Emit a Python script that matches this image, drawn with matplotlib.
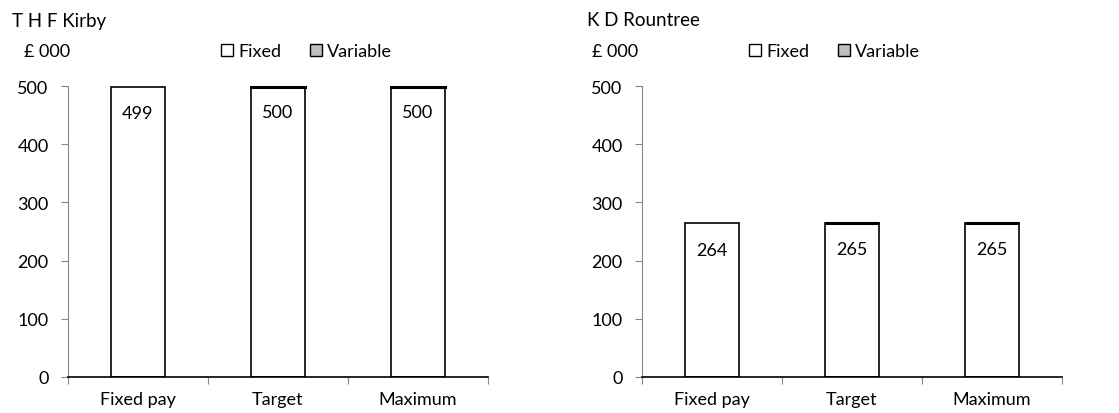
import numpy as np
import matplotlib.pyplot as plt
from matplotlib.patches import Patch

# Datos
categorias = ['Fixed pay', 'Target', 'Maximum']
nombres = ['T H F Kirby', 'K D Rountree']
fijo_kirby = [499, 499, 499]
variable_kirby = [0, 1, 1]
total_kirby = [499, 500, 500]
fijo_rountree = [264, 264, 264]
variable_rountree = [0, 1, 1]
total_rountree = [264, 265, 265]
yticks = [0, 100, 200, 300, 400, 500]

plt.rcParams['font.family'] = ['Lato', 'DejaVu Sans']
plt.rcParams['font.size'] = 13

fig = plt.figure(figsize=(11.19, 4.14), dpi=100)

def panel(rect, nombre, fijo, variable, total, x_titulo, x_unidad, x_leyenda):
    ax = fig.add_axes(rect)
    x = np.arange(len(categorias))
    ax.bar(x, fijo, width=0.39, color='white', edgecolor='black', linewidth=1.2)
    # la parte variable es muy pequeña: se ve como un borde grueso arriba
    ax.bar(x, variable, bottom=fijo, width=0.39, color='#bfbfbf',
           edgecolor='black', linewidth=[0 if v == 0 else 2.2 for v in variable])
    for xi, t in zip(x, total):
        ax.annotate(str(t), (xi, t), xytext=(0, -19), textcoords='offset points',
                    ha='center', va='center', fontsize=13)
    ax.set_xlim(-0.5, 2.5)
    ax.set_ylim(0, 500)
    ax.set_yticks(yticks)
    ax.set_xticks([-0.5, 0.5, 1.5, 2.5], minor=False)
    ax.set_xticklabels([])
    ax.set_xticks(x, minor=True)
    ax.set_xticklabels(categorias, minor=True)
    ax.tick_params(axis='x', which='minor', length=0, pad=10)
    ax.tick_params(axis='x', which='major', length=5, direction='out', color='#888888')
    ax.tick_params(axis='y', length=5, direction='out', color='#888888', pad=9)
    for s in ['top', 'right']:
        ax.spines[s].set_visible(False)
    ax.spines['left'].set_color('#888888')
    ax.spines['bottom'].set_color('black')
    ax.spines['bottom'].set_linewidth(1.2)
    fig.text(x_titulo, 1 - 21 / 414, nombre, ha='left', va='center', fontsize=13.5)
    fig.text(x_unidad, 1 - 52 / 414, '£ 000', ha='left', va='center', fontsize=13)
    manejadores = [Patch(facecolor='white', edgecolor='black', label='Fixed'),
                   Patch(facecolor='#bfbfbf', edgecolor='black', label='Variable')]
    fig.legend(handles=manejadores, loc='center left',
               bbox_to_anchor=(x_leyenda, 1 - 52 / 414), ncol=2, frameon=False,
               handlelength=0.65, handleheight=0.65, handletextpad=0.3,
               columnspacing=1.6, fontsize=13, borderaxespad=0, borderpad=0)
    return ax

panel([68 / 1119, 36 / 414, 420 / 1119, 291 / 414], nombres[0],
      fijo_kirby, variable_kirby, total_kirby, 12 / 1119, 24 / 1119, 221 / 1119)
panel([642 / 1119, 36 / 414, 420 / 1119, 291 / 414], nombres[1],
      fijo_rountree, variable_rountree, total_rountree, 587 / 1119, 592 / 1119, 749 / 1119)

plt.savefig('out.png', dpi=100)
